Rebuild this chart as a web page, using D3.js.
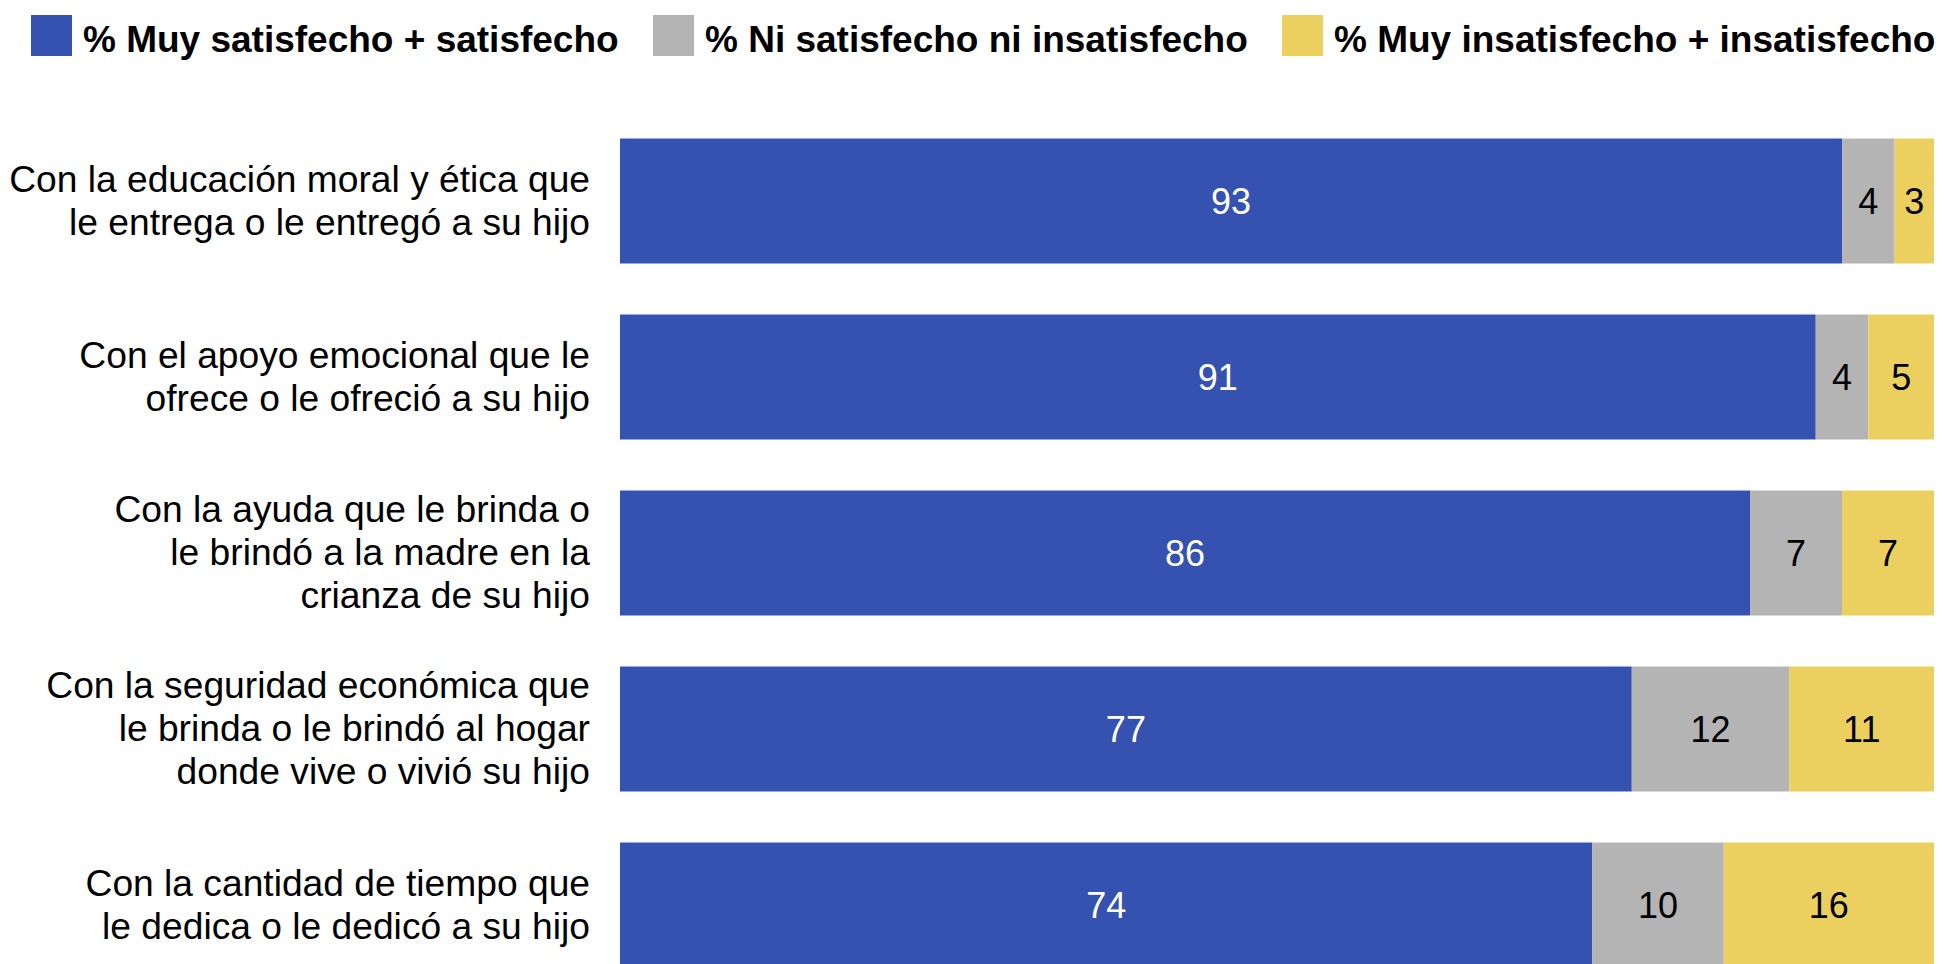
<!DOCTYPE html>
<html>
<head>
<meta charset="utf-8">
<script src="https://cdn.jsdelivr.net/npm/d3@7"></script>
<style>
  html, body { margin: 0; padding: 0; background: #ffffff; }
  svg { display: block; }
  text { font-family: "Liberation Sans", Arial, sans-serif; }
</style>
</head>
<body>
<svg id="chart" width="1944" height="964"></svg>
<script>
// ---- Data ----
const categories = [
  "Con la educación moral y ética que|le entrega o le entregó a su hijo",
  "Con el apoyo emocional que le|ofrece o le ofreció a su hijo",
  "Con la ayuda que le brinda o|le brindó a la madre en la|crianza de su hijo",
  "Con la seguridad económica que|le brinda o le brindó al hogar|donde vive o vivió su hijo",
  "Con la cantidad de tiempo que|le dedica o le dedicó a su hijo"
];
const seriesNames = [
  "% Muy satisfecho + satisfecho",
  "% Ni satisfecho ni insatisfecho",
  "% Muy insatisfecho + insatisfecho"
];
const satisfecho = [93, 91, 86, 77, 74];
const niNi = [4, 4, 7, 12, 10];
const insatisfecho = [3, 5, 7, 11, 16];

// ---- Styles / layout ----
const colors = ["#3552b0", "#b4b4b4", "#ebd060"];
const labelColors = ["#ffffff", "#000000", "#000000"];
const legendX = [31, 653, 1282];
const svg = d3.select("#chart");

const x = d3.scaleLinear().domain([0, 100]).range([620, 1934]);
const y = d3.scaleBand().domain(categories).range([113, 993])
  .paddingInner(0.29).paddingOuter(0.145);

const rows = categories.map((c, i) => ({cat: c, vals: [satisfecho[i], niNi[i], insatisfecho[i]]}));
const stack = d3.stack().keys([0, 1, 2]).value((d, k) => d.vals[k]);
const layers = stack(rows);

// ---- Bars ----
const g = svg.append("g");
layers.forEach((layer, k) => {
  const lg = g.append("g").attr("fill", colors[k]);
  lg.selectAll("rect").data(layer).join("rect")
    .attr("x", d => x(d[0]))
    .attr("y", d => y(d.data.cat))
    .attr("width", d => x(d[1]) - x(d[0]))
    .attr("height", y.bandwidth());
  g.append("g").selectAll("text").data(layer).join("text")
    .attr("x", d => (x(d[0]) + x(d[1])) / 2)
    .attr("y", d => y(d.data.cat) + y.bandwidth() / 2 + 13)
    .attr("text-anchor", "middle")
    .attr("font-size", 36)
    .attr("fill", labelColors[k])
    .text(d => d.data.vals[k]);
});

// ---- Category labels ----
const lineH = 43;
const catG = svg.append("g");
categories.forEach(c => {
  const lines = c.split("|");
  const cy = y(c) + y.bandwidth() / 2;
  const t = catG.append("text")
    .attr("text-anchor", "end")
    .attr("font-size", 37.2)
    .attr("fill", "#000");
  lines.forEach((ln, i) => {
    t.append("tspan")
      .attr("x", 590)
      .attr("y", cy + 12 + (i - (lines.length - 1) / 2) * lineH)
      .text(ln);
  });
});

// ---- Legend ----
const legend = svg.append("g");
seriesNames.forEach((name, k) => {
  legend.append("rect")
    .attr("x", legendX[k]).attr("y", 15)
    .attr("width", 41).attr("height", 41)
    .attr("fill", colors[k]);
  legend.append("text")
    .attr("x", legendX[k] + 52).attr("y", 52)
    .attr("font-size", 37).attr("font-weight", "bold")
    .attr("fill", "#000")
    .text(name);
});
</script>
</body>
</html>
